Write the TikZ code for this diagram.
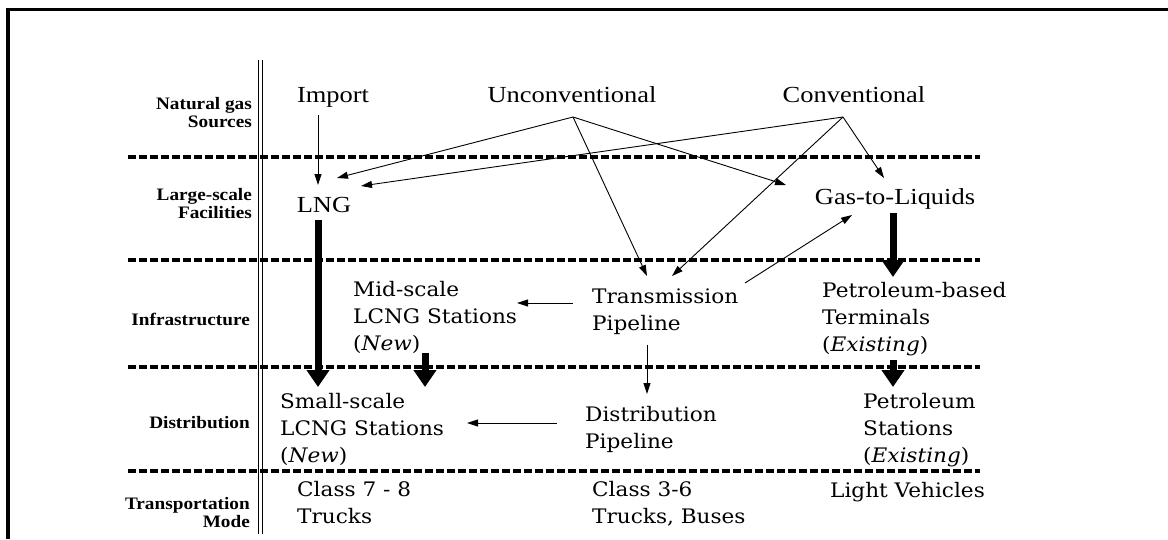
\documentclass[tikz,border=0pt]{standalone}
\usepackage{fontspec}
\setmainfont{Liberation Serif}
\newfontfamily\tfont[FakeStretch=1.15]{Liberation Serif}
\newfontfamily\lfont[FakeStretch=1.1]{Liberation Serif}
\newfontfamily\mfont[FakeStretch=1.08]{DejaVu Serif}
\usetikzlibrary{arrows.meta}
\begin{document}
\begin{tikzpicture}[x=1pt,y=-1pt,
 src/.style={font=\tfont\fontsize{23}{27}\selectfont, inner sep=0pt, anchor=base},
 lab/.style={font=\lfont\bfseries\fontsize{17.5}{18}\selectfont, inner sep=0pt, anchor=base east, align=right},
 box/.style={font=\mfont\fontsize{20}{27}\selectfont, inner sep=0pt, anchor=base west, align=left},
 thinarr/.style={line width=0.9pt, -{Triangle[width=7pt,length=11pt]}},
 thickarr/.style={line width=7pt, -{Triangle[width=22pt,length=17pt]}},
 sep/.style={line width=4pt, dash pattern=on 8pt off 3pt},
]
\useasboundingbox (0,0) rectangle (1168,539);
% frame
\draw[line width=3.5pt] (8,539) -- (8,9.7) -- (1168,9.7);
% separators
\foreach \yy in {157,260,367,471} \draw[sep] (128,\yy) -- (980,\yy);
\draw[line width=1.2pt] (258.3,60) -- (258.3,534);
\draw[line width=1.2pt] (262.5,60) -- (262.5,534);
% row labels (anchor = baseline of last line)
\node[lab] (l1) at (252,127) {Natural gas\\Sources};
\node[lab] (l2) at (252,218) {Large-scale\\Facilities};
\node[lab] (l3) at (250,325) {Infrastructure};
\node[lab] (l4) at (250,428) {Distribution};
\node[lab] (l5) at (250,527) {Transportation\\Mode};
% nodes
\node[src] (imp) at (333,102) {Import};
\node[src] (unc) at (572,102) {Unconventional};
\node[src] (con) at (854,102) {Conventional};
\node[src] (lng) at (324,212) {LNG};
\node[src] (gtl) at (895,204) {Gas-to-Liquids};
\node[box] (mid) at (353,350) {Mid-scale\\LCNG Stations\\(\textit{New})};
\node[box] (tra) at (592,330) {Transmission\\Pipeline};
\node[box] (pbt) at (822,351) {Petroleum-based\\Terminals\\(\textit{Existing})};
\node[box] (sml) at (280,462) {Small-scale\\LCNG Stations\\(\textit{New})};
\node[box] (dis) at (585,448) {Distribution\\Pipeline};
\node[box] (pst) at (863,462) {Petroleum\\Stations\\(\textit{Existing})};
\node[box] (c78) at (297,523) {Class 7 - 8\\Trucks};
\node[box] (c36) at (592,523) {Class 3-6\\Trucks, Buses};
\node[box] (lv) at (830,497) {Light Vehicles};
% connector end points
\coordinate (impS) at (318,115);
\coordinate (lngN) at (318,185);
\coordinate (uA) at (573,117);
\coordinate (cA) at (843,117);
\coordinate (lngU) at (337,178);
\coordinate (lngC) at (361,186);
\coordinate (traU) at (647,276);
\coordinate (traC) at (672,276);
\coordinate (gtlU) at (786,185);
\coordinate (gtlC) at (884,178);
\coordinate (gtlS) at (893,213);
\coordinate (pbtN) at (893,277);
\coordinate (traE) at (745,283);
\coordinate (gtlW) at (852,215);
\coordinate (traW) at (573,303);
\coordinate (midE) at (517,303);
\coordinate (lngS) at (318,220);
\coordinate (smlN) at (318,387);
\coordinate (midS) at (425,353);
\coordinate (smlNE) at (425,387);
\coordinate (traS) at (647,345);
\coordinate (disN) at (647,394);
\coordinate (disW) at (557,423);
\coordinate (smlE) at (467,423);
\coordinate (pbtS) at (893,360);
\coordinate (pstN) at (893,387);
% thin connectors
\draw[thinarr] (impS) -- (lngN);
\draw[thinarr] (uA) -- (lngU);
\draw[thinarr] (uA) -- (traU);
\draw[thinarr] (uA) -- (gtlU);
\draw[thinarr] (cA) -- (lngC);
\draw[thinarr] (cA) -- (traC);
\draw[thinarr] (cA) -- (gtlC);
\draw[thinarr] (traE) -- (gtlW);
\draw[thinarr] (traW) -- (midE);
\draw[thinarr] (traS) -- (disN);
\draw[thinarr] (disW) -- (smlE);
% thick connectors
\draw[thickarr] (lngS) -- (smlN);
\draw[thickarr] (gtlS) -- (pbtN);
\draw[thickarr] (midS) -- (smlNE);
\draw[thickarr] (pbtS) -- (pstN);
\end{tikzpicture}
\end{document}
